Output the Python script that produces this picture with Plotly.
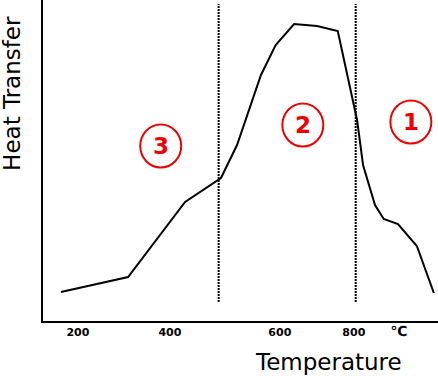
import plotly.graph_objects as go

# Curve data (temperature in °C, heat transfer in arbitrary units)
temperature = [163, 309, 433, 511, 546, 598, 630, 670, 720, 765, 807, 820, 846, 865, 896, 937, 974]
heat_transfer = [29, 44, 119, 143, 176, 246, 276, 297, 295, 290, 201, 156, 116, 102, 97, 75, 28]

# Region boundaries (dotted lines)
boundaries = [506, 804]
boundary_y = [19, 317]

# Region markers
region_labels = ["3", "2", "1"]
region_x = [380, 689, 924]
region_y = [175, 196, 199]

# Tick labels (positions as drawn in the reference)
tick_vals = [200, 400, 639, 800, 898]
tick_text = ["200", "400", "600", "800", "<span style='font-size:14px'>℃</span>"]

FONT = "DejaVu Sans"
RED = "#ee0000"

fig = go.Figure()
fig.add_trace(go.Scatter(x=temperature, y=heat_transfer, mode="lines",
                         line=dict(color="black", width=2), showlegend=False,
                         hoverinfo="skip"))
for b in boundaries:
    fig.add_trace(go.Scatter(x=[b, b], y=boundary_y, mode="lines",
                             line=dict(color="black", width=2, dash="2px,1px"),
                             showlegend=False, hoverinfo="skip"))

shapes = []
annotations = []
for lab, cx, cy in zip(region_labels, region_x, region_y):
    shapes.append(dict(type="circle", xref="x", yref="y", xsizemode="pixel", ysizemode="pixel",
                       xanchor=cx, yanchor=cy, x0=-20.5, x1=20.5, y0=-21.5, y1=21.5,
                       line=dict(color=RED, width=2)))
    annotations.append(dict(x=cx, y=cy, xref="x", yref="y", text=lab, showarrow=False,
                            font=dict(family=FONT, size=23, color=RED, weight="bold")))

# Axis titles as annotations
annotations.append(dict(x=0.724, y=-0.128, xref="paper", yref="paper",
                        xanchor="center", yanchor="middle",
                        text="Temperature", showarrow=False,
                        font=dict(family=FONT, size=23, color="black")))
annotations.append(dict(x=-0.079, y=0.71, xref="paper", yref="paper",
                        xanchor="center", yanchor="middle", textangle=-90,
                        text="Heat Transfer", showarrow=False,
                        font=dict(family=FONT, size=23, color="black")))

fig.update_layout(
    width=438, height=376,
    margin=dict(l=43, r=0, t=0, b=55, autoexpand=False),
    paper_bgcolor="white", plot_bgcolor="white",
    shapes=shapes,
    annotations=annotations,
    xaxis=dict(range=[124, 983], showgrid=False, zeroline=False, automargin=False,
               showline=True, linecolor="black", linewidth=2,
               tickvals=tick_vals, ticktext=tick_text, ticks="",
               tickfont=dict(family=FONT, size=11, color="black", weight="bold")),
    yaxis=dict(range=[0, 321], showgrid=False, zeroline=False, automargin=False,
               showline=True, linecolor="black", linewidth=2,
               showticklabels=False, ticks=""),
)

fig.write_html("out.html", config={"displayModeBar": False},
               post_script="document.body.style.margin='0';document.body.style.overflow='hidden';")
